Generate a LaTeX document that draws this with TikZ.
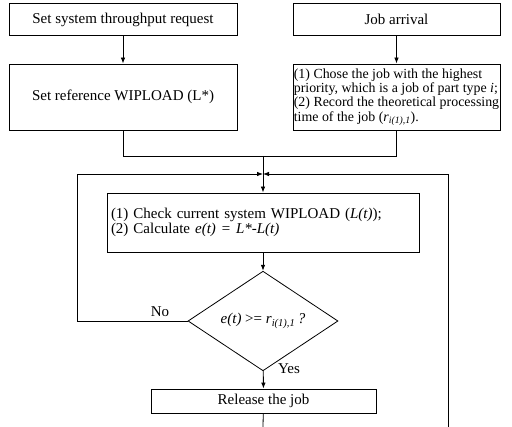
\documentclass[tikz,border=0pt]{standalone}
\usepackage{fontspec}
\setmainfont{Liberation Serif}
\usetikzlibrary{shapes.geometric,arrows.meta}
\tikzset{
  flow/.style={
    line width=0.8pt,
    draw=black
  },
  flow-arrow/.style={
    flow,
    -{Latex[length=6pt,width=4.5pt]}
  },
  stepbox/.style={
    draw=black,
    line width=0.8pt,
    rectangle,
    inner sep=1pt,
    font=\fontsize{15}{14.3}\selectfont
  },
  decision/.style={
    draw=black,
    line width=0.8pt,
    diamond,
    inner sep=0pt,
    minimum width=150pt,
    minimum height=78pt,
    font=\fontsize{15}{14.3}\selectfont
  },
  flow-label/.style={font=\fontsize{15}{14.3}\selectfont, inner sep=0pt}
}
\newcommand{\rjob}{\textit{r}\textsubscript{\textit{i(1),1}}}

\begin{document}
\begin{tikzpicture}[x=1pt,y=-1pt]
  \useasboundingbox (0,0) rectangle (512,427);
  % top row
  \node[stepbox, minimum width=228pt, minimum height=32pt] (throughput) at (123,19.5)
    {Set system throughput request};
  \node[stepbox, minimum width=207pt, minimum height=32pt] (arrival) at (396.5,19.5)
    {Job arrival};
  % second row
  \node[stepbox, minimum width=207pt, minimum height=66pt, inner sep=0.5pt, align=left,
        font=\fontsize{13.9}{14.3}\selectfont] (choose) at (396.5,97)
    {(1) Chose the job with the highest\\
     priority, which is a job of part type \textit{i};\\
     (2) Record the theoretical processing\\
     time of the job (\rjob).};
  \node[stepbox, minimum width=228pt, minimum height=66pt] (refload) at (123,97)
    {Set reference WIPLOAD (L*)};
  % check and decide
  \node[stepbox, minimum height=59pt, text width=304pt, inner sep=4pt, align=left] (check) at (263,222.5)
    {(1) Check current system WIPLOAD (\textit{L(t)});\\
     (2) Calculate \textit{e(t) = L*-L(t)}};
  \node[decision] (decide) at (263,321)
    {\textit{e(t)} >= \rjob\,\textit{?}};
  \node[stepbox, minimum width=225pt, minimum height=24pt] (release) at (263.5,401)
    {Release the job};
  % junctions
  \coordinate (merge) at (263,156);
  \coordinate (loopin) at (263,174);
  \coordinate (loopleft) at (77,174);
  \coordinate (loopright) at (448,174);
  \coordinate (releaseout) at (263,427);
  \coordinate (rightout) at (448,427);
  % connectors
  \draw[flow-arrow] (throughput) -- (refload);
  \draw[flow-arrow] (arrival) -- (choose);
  \draw[flow] (refload) -- (refload |- merge) -- (choose |- merge) -- (choose);
  \draw[flow-arrow] (merge) -- (check);
  \draw[flow-arrow] (check) -- (decide);
  \draw[flow-arrow] (decide) -- (release);
  \draw[flow] (release) -- (releaseout);
  % loop back
  \draw[flow-arrow] (decide.west) -- (decide.west -| loopleft) -- (loopleft) -- (loopin);
  \draw[flow-arrow] (rightout) -- (loopright) -- (loopin);
  % labels
  \node[flow-label] (nolabel) at (160,312) {No};
  \node[flow-label] (yeslabel) at (289,369) {Yes};
\end{tikzpicture}
\end{document}
